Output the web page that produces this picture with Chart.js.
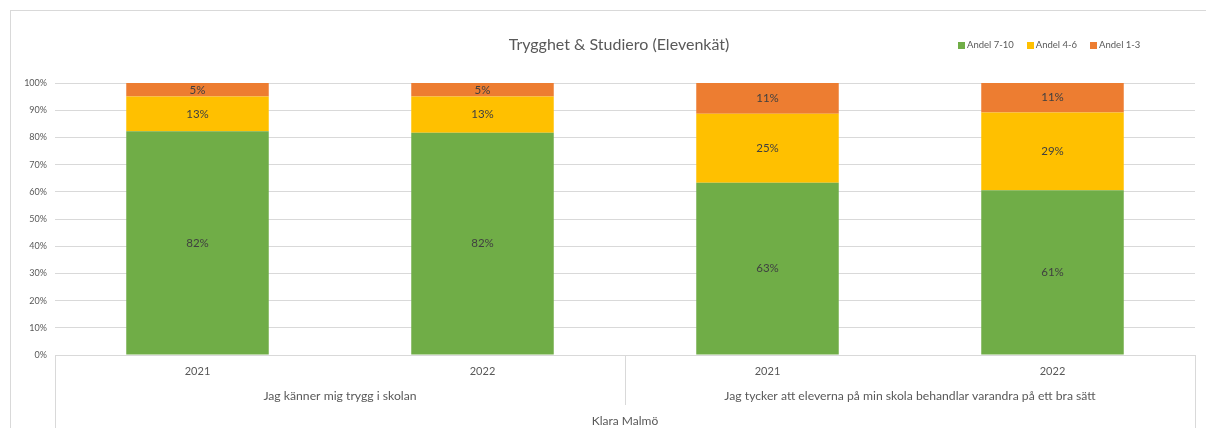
<!DOCTYPE html>
<html><head><meta charset="utf-8">
<script src="https://cdn.jsdelivr.net/npm/chart.js@4/dist/chart.umd.min.js"></script>
<style>
html,body{margin:0;padding:0;background:#fff;overflow:hidden}
#wrap{position:relative;width:1206px;height:428px;overflow:hidden}
#frame{position:absolute;left:10px;top:10px;width:1300px;height:500px;border:1px solid #d9d9d9;box-sizing:border-box}
#cwrap{position:absolute;left:0;top:0;width:1206px;height:428px}
#legend{position:absolute;top:39px;left:958px;font:9.5px Lato,"Liberation Sans",sans-serif;color:#595959;display:flex;line-height:12px;white-space:nowrap}
#legend .it{display:flex;align-items:center;margin-right:13px}
#legend .mk{width:7px;height:7px;margin-right:2px;display:inline-block}
</style></head>
<body>
<div id="wrap">
<div id="frame"></div>
<div id="cwrap"><canvas id="c" width="1206" height="428"></canvas></div>
<div id="legend"></div>
</div>
<script>
const categories = ['2021', '2022', '2021', '2022'];
const groups = ['Jag känner mig trygg i skolan', 'Jag tycker att eleverna på min skola behandlar varandra på ett bra sätt'];
const school = ['Klara Malmö'];
const titleText = 'Trygghet & Studiero (Elevenkät)';
const seriesNames = ['Andel 7-10', 'Andel 4-6', 'Andel 1-3'];
const seriesColors = ['#70AD47', '#FFC000', '#ED7D31'];
const andel7_10 = [82.3, 81.7, 63.3, 60.6];
const andel4_6 = [12.7, 13.3, 25.4, 28.6];
const andel1_3 = [5.0, 5.0, 11.3, 10.8];
const yTickValues = [0, 10, 20, 30, 40, 50, 60, 70, 80, 90, 100];

const seriesData = [andel7_10, andel4_6, andel1_3];
const FONT = 'Lato, "Liberation Sans", sans-serif';
Chart.defaults.font.family = FONT;
Chart.defaults.color = '#595959';

// HTML legend
const leg = document.getElementById('legend');
seriesNames.forEach((n, i) => {
  const it = document.createElement('span'); it.className = 'it';
  const mk = document.createElement('span'); mk.className = 'mk'; mk.style.background = seriesColors[i];
  const tx = document.createElement('span'); tx.textContent = n;
  it.appendChild(mk); it.appendChild(tx); leg.appendChild(it);
});

const barLabels = {
  id: 'barLabels',
  afterDatasetsDraw(chart) {
    const ctx = chart.ctx;
    ctx.save();
    ctx.font = '11.5px ' + FONT;
    ctx.fillStyle = '#404040';
    ctx.textAlign = 'center';
    ctx.textBaseline = 'middle';
    chart.data.datasets.forEach((ds, i) => {
      const meta = chart.getDatasetMeta(i);
      meta.data.forEach((bar, j) => {
        const p = bar.getProps(['x', 'y', 'base'], true);
        ctx.fillText(Math.round(ds.data[j]) + '%', p.x, (p.y + p.base) / 2);
      });
    });
    ctx.restore();
  }
};

const separators = {
  id: 'separators',
  afterLayout(chart) {
    if (chart.titleBlock) { chart.titleBlock.left = 43; }
  },
  afterDraw(chart) {
    const ctx = chart.ctx, ca = chart.chartArea, xs = chart.scales.x, x2 = chart.scales.x2;
    const mid = (xs.getPixelForValue(1) + xs.getPixelForValue(2)) / 2;
    const lines = [[ca.left, ca.bottom, chart.height], [mid, ca.bottom, x2.bottom], [ca.right, ca.bottom, chart.height]];
    ctx.save();
    ctx.strokeStyle = '#d9d9d9';
    ctx.lineWidth = 1;
    lines.forEach(([x, y0, y1]) => {
      const px = Math.round(x) + 0.5;
      ctx.beginPath(); ctx.moveTo(px, y0); ctx.lineTo(px, y1); ctx.stroke();
    });
    ctx.restore();
  }
};

new Chart(document.getElementById('c'), {
  type: 'bar',
  data: {
    labels: categories,
    datasets: seriesNames.map((n, i) => ({
      label: n,
      data: seriesData[i],
      backgroundColor: seriesColors[i],
      borderWidth: 0,
      barPercentage: 0.5,
      categoryPercentage: 1.0
    }))
  },
  options: {
    responsive: false,
    animation: false,
    layout: { padding: { left: 0, right: 11, top: 0, bottom: 0 } },
    plugins: {
      legend: { display: false },
      tooltip: { enabled: false },
      title: {
        display: true,
        text: titleText,
        color: '#595959',
        font: { size: 16, weight: 'normal', family: FONT },
        padding: { top: 35.4, bottom: 28.4 }
      }
    },
    scales: {
      x: {
        stacked: true,
        grid: { display: false, drawTicks: false },
        border: { display: true, color: '#d9d9d9' },
        ticks: { font: { size: 11 }, color: '#595959', padding: 9.4, maxRotation: 0 },
        afterFit(s) { s.height = 25; }
      },
      x2: {
        type: 'category',
        position: 'bottom',
        labels: groups,
        offset: true,
        grid: { display: false, drawTicks: false },
        border: { display: false },
        ticks: { font: { size: 12.2 }, color: '#595959', padding: 8.7, maxRotation: 0, autoSkip: false },
        afterFit(s) { s.height = 25; }
      },
      x3: {
        type: 'category',
        position: 'bottom',
        labels: school,
        offset: true,
        grid: { display: false, drawTicks: false },
        border: { display: false },
        ticks: { font: { size: 12 }, color: '#595959', padding: 8.8, maxRotation: 0, autoSkip: false },
        afterFit(s) { s.height = 23; }
      },
      y: {
        stacked: true,
        min: 0,
        max: 100,
        afterBuildTicks(s) { s.ticks = yTickValues.map(v => ({ value: v })); },
        grid: { color: '#d9d9d9', drawTicks: false },
        border: { display: false },
        ticks: { font: { size: 9 }, color: '#595959', padding: 8, callback: v => v + '%' },
        afterFit(s) { s.width = 55; }
      }
    }
  },
  plugins: [barLabels, separators]
});
</script>
</body></html>
